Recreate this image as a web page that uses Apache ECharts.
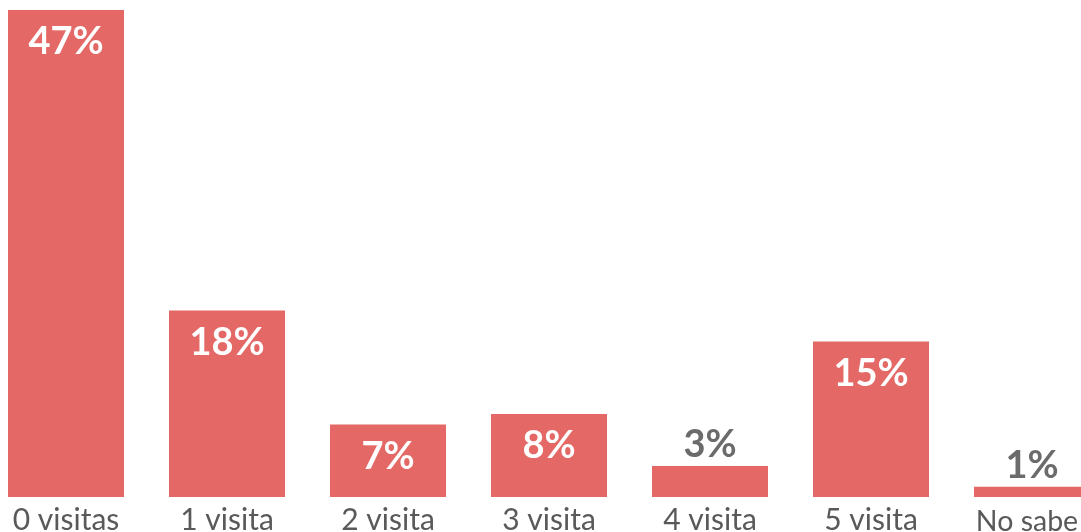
<!DOCTYPE html>
<html><head><meta charset="utf-8">
<script src="https://cdn.jsdelivr.net/npm/echarts@6/dist/echarts.min.js"></script>
<style>html,body{margin:0;padding:0;background:#fff}#c{width:1081px;height:532px}</style>
</head><body><div id="c"></div>
<script>
const categories = ['0 visitas','1 visita','2 visita','3 visita','4 visita','5 visita','No sabe'];
const values = [47, 18, 7, 8, 3, 15, 1];
const outsideThreshold = 5;

const chart = echarts.init(document.getElementById('c'), null, {renderer:'canvas'});
chart.setOption({
  animation: false,
  grid: {left: -14.5, right: -31.5, top: 10, bottom: 35, containLabel: false, outerBoundsMode: 'none'},
  xAxis: {
    type: 'category', data: categories,
    axisLine: {show: false}, axisTick: {show: false},
    axisLabel: {
      color: '#595959', fontSize: 30, fontFamily: 'Lato', margin: 8, interval: 0,
      formatter: (v, i) => i === categories.length - 1 ? '{n|' + v + '}' : v,
      rich: {n: {fontSize: 28.5, fontFamily: 'Lato', color: '#595959', padding: [2, 0, 0, -10]}}
    }
  },
  yAxis: {type: 'value', min: 0, max: 47, show: false, splitLine: {show: false}},
  series: [{
    type: 'bar', barWidth: 116,
    itemStyle: {color: '#E46966'},
    data: values.map(v => ({
      value: v,
      label: v < outsideThreshold
        ? {show: true, position: 'top', distance: 2, color: '#6B6B6B'}
        : {show: true, position: 'insideTop', distance: 13, color: '#ffffff'}
    })),
    label: {fontSize: 38, fontWeight: 'bold', fontFamily: 'Lato', formatter: p => p.value + '%'}
  }]
});
</script></body></html>
